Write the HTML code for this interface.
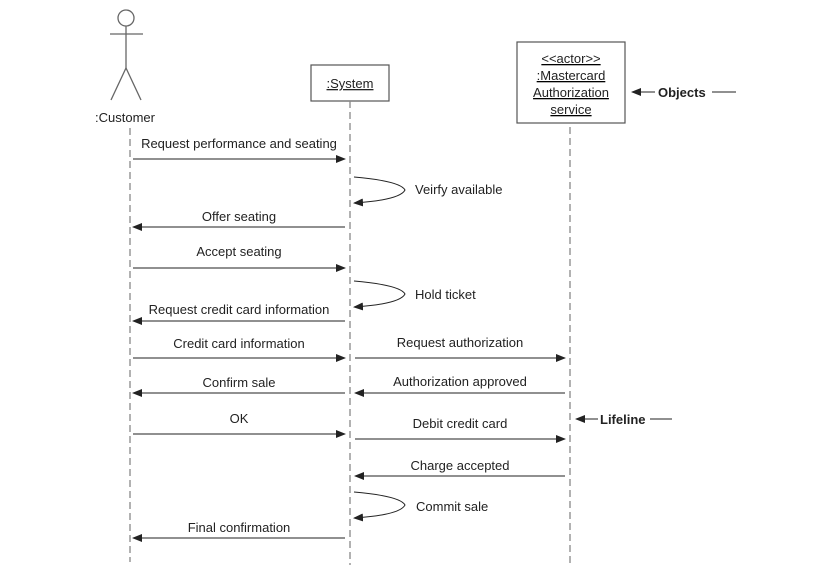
<!DOCTYPE html>
<html><head><meta charset="utf-8"><style>
html,body{margin:0;padding:0;background:#fff;}
svg text{font-family:"Liberation Sans",Arial,sans-serif;font-size:13px;fill:#222;}
</style></head><body>
<svg width="814" height="575" viewBox="0 0 814 575" xmlns="http://www.w3.org/2000/svg">
<defs>
<marker id="a" markerWidth="10" markerHeight="8" refX="9" refY="4" orient="auto" markerUnits="userSpaceOnUse">
<path d="M0,0 L10,4 L0,8 z" fill="#222"/></marker>
</defs>
<g stroke="#666" stroke-width="1.3" fill="none">
<circle cx="126" cy="18" r="8"/>
<line x1="126" y1="26" x2="126" y2="68"/>
<line x1="110" y1="34" x2="143" y2="34"/>
<line x1="126" y1="68" x2="111" y2="100"/>
<line x1="126" y1="68" x2="141" y2="100"/>
</g>
<text x="95" y="122">:Customer</text>
<rect x="311" y="65" width="78" height="36" fill="none" stroke="#555" stroke-width="1.2"/>
<text x="350" y="88" text-anchor="middle" text-decoration="underline">:System</text>
<rect x="517" y="42" width="108" height="81" fill="none" stroke="#555" stroke-width="1.2"/>
<g text-anchor="middle" text-decoration="underline">
<text x="571" y="63">&lt;&lt;actor&gt;&gt;</text>
<text x="571" y="80">:Mastercard</text>
<text x="571" y="97">Authorization</text>
<text x="571" y="114">service</text>
</g>
<g stroke="#888" stroke-width="1.3" stroke-dasharray="7,4">
<line x1="130" y1="128" x2="130" y2="562"/>
<line x1="350" y1="101" x2="350" y2="565"/>
<line x1="570" y1="127" x2="570" y2="565"/>
</g>
<g stroke="#222" stroke-width="1" fill="none" marker-end="url(#a)">
<line x1="133" y1="159" x2="345" y2="159"/>
<line x1="345" y1="227" x2="133" y2="227"/>
<line x1="133" y1="268" x2="345" y2="268"/>
<line x1="345" y1="321" x2="133" y2="321"/>
<line x1="133" y1="358" x2="345" y2="358"/>
<line x1="355" y1="358" x2="565" y2="358"/>
<line x1="345" y1="393" x2="133" y2="393"/>
<line x1="565" y1="393" x2="355" y2="393"/>
<line x1="133" y1="434" x2="345" y2="434"/>
<line x1="355" y1="439" x2="565" y2="439"/>
<line x1="565" y1="476" x2="355" y2="476"/>
<line x1="345" y1="538" x2="133" y2="538"/>
<path d="M354,177 Q400,181 405,190 Q400,200 354,203"/>
<path d="M354,281 Q400,285 405,294 Q400,304 354,307"/>
<path d="M354,492 Q400,496 405,505 Q400,515 354,518"/>
<line x1="655" y1="92" x2="632" y2="92"/>
<line x1="598" y1="419" x2="576" y2="419"/>
</g>
<line x1="712" y1="92" x2="736" y2="92" stroke="#222"/>
<line x1="650" y1="419" x2="672" y2="419" stroke="#222"/>
<text x="658" y="97" font-weight="bold" style="font-weight:bold">Objects</text>
<text x="600" y="424" style="font-weight:bold">Lifeline</text>
<text x="239" y="148" text-anchor="middle">Request performance and seating</text>
<text x="415" y="194">Veirfy available</text>
<text x="239" y="221" text-anchor="middle">Offer seating</text>
<text x="239" y="256" text-anchor="middle">Accept seating</text>
<text x="415" y="299">Hold ticket</text>
<text x="239" y="314" text-anchor="middle">Request credit card information</text>
<text x="239" y="348" text-anchor="middle">Credit card information</text>
<text x="460" y="347" text-anchor="middle">Request authorization</text>
<text x="239" y="387" text-anchor="middle">Confirm sale</text>
<text x="460" y="386" text-anchor="middle">Authorization approved</text>
<text x="239" y="423" text-anchor="middle">OK</text>
<text x="460" y="428" text-anchor="middle">Debit credit card</text>
<text x="460" y="470" text-anchor="middle">Charge accepted</text>
<text x="416" y="511">Commit sale</text>
<text x="239" y="532" text-anchor="middle">Final confirmation</text>
</svg>
</body></html>
